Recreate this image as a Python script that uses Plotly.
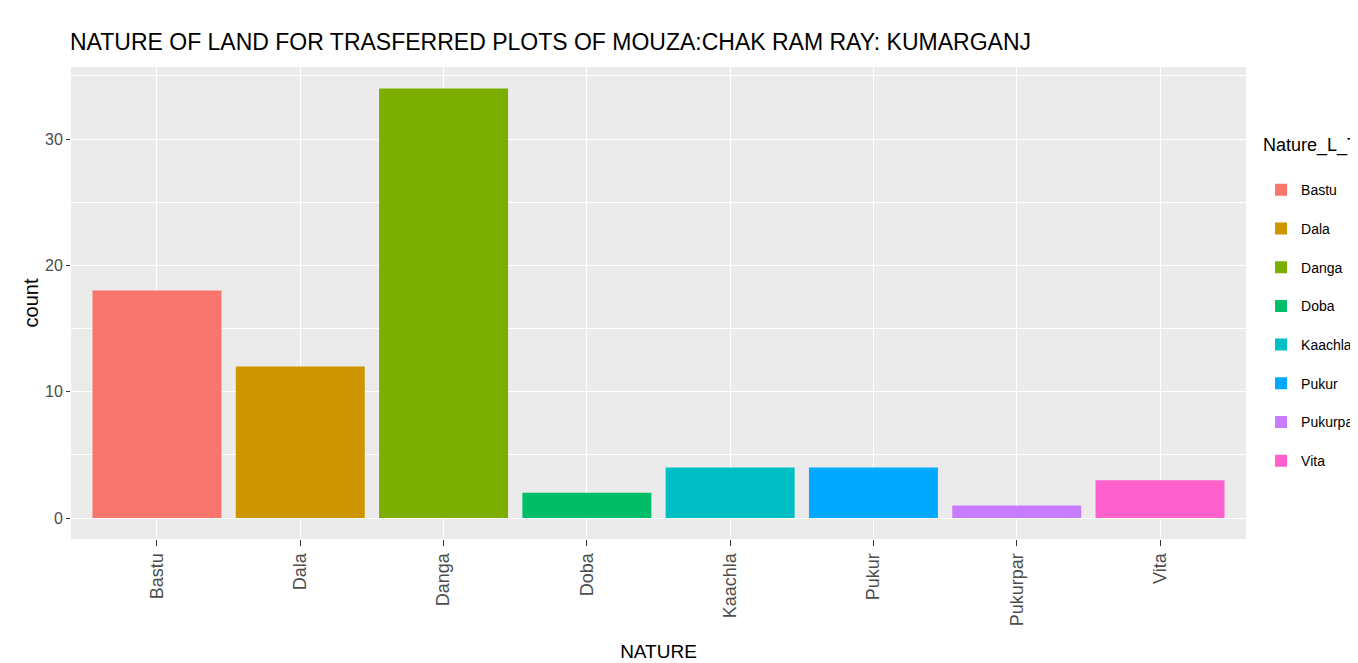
import plotly.graph_objects as go

# land categories and plot counts
nature = ["Bastu", "Dala", "Danga", "Doba", "Kaachla", "Pukur", "Pukurpar", "Vita"]
counts = [18, 12, 34, 2, 4, 4, 1, 3]
colors = ["#F8766D", "#CD9600", "#7CAE00", "#00BE67", "#00BFC4", "#00A9FF", "#C77CFF", "#FF61CC"]

# page is drawn with an 8px body margin, so the figure is 8px smaller
W, H = 1350, 655
L, R, T, B = 63, 112, 59, 124
FONT = "Liberation Sans, Arial, sans-serif"

fig = go.Figure()
for name, cnt, col in zip(nature, counts, colors):
    fig.add_trace(go.Bar(x=[name], y=[cnt], name=name, legendgroup=name,
                         marker=dict(color=col, line=dict(width=0)), width=0.9))

fig.update_layout(
    width=W, height=H,
    margin=dict(l=L, r=R, t=T, b=B, autoexpand=False),
    paper_bgcolor="white", plot_bgcolor="#EBEBEB",
    font=dict(family=FONT, color="#4D4D4D"),
    title=dict(text="NATURE OF LAND FOR TRASFERRED PLOTS OF MOUZA:CHAK RAM RAY: KUMARGANJ",
               font=dict(family=FONT, size=23, color="black"),
               xref="container", x=62 / W, xanchor="left",
               yref="container", y=1 - 34 / H, yanchor="middle"),
    showlegend=True,
    legend=dict(title=dict(text="Nature_L_Type<br> ", font=dict(size=18, color="black")),
                font=dict(size=14, color="black"),
                x=1.0128, xanchor="left", y=0.872, yanchor="top",
                tracegroupgap=17.5, bgcolor="rgba(0,0,0,0)"),
    bargap=0.1,
)
fig.update_xaxes(
    categoryorder="array", categoryarray=nature, range=[-0.6, 7.6],
    showgrid=True, gridcolor="white", gridwidth=1.2,
    ticks="outside", ticklen=6, tickcolor="#333333", tickwidth=1.1,
    tickangle=-90, tickfont=dict(family=FONT, size=18, color="#4D4D4D"),
    title=dict(text="NATURE", font=dict(size=19, color="black"), standoff=19),
    zeroline=False,
)
fig.update_yaxes(
    range=[-1.66, 35.7], tickvals=[0, 10, 20, 30],
    showgrid=True, gridcolor="white", gridwidth=1.2,
    minor=dict(tickvals=[5, 15, 25, 35], showgrid=True, gridcolor="white", gridwidth=0.6),
    ticks="outside", ticklen=4, tickcolor="#333333", tickwidth=1.1,
    tickfont=dict(size=16, color="#4D4D4D"),
    title=dict(text="count", font=dict(family=FONT, size=20, color="black"), standoff=1),
    zeroline=False,
)

fig.write_html("out.html")
